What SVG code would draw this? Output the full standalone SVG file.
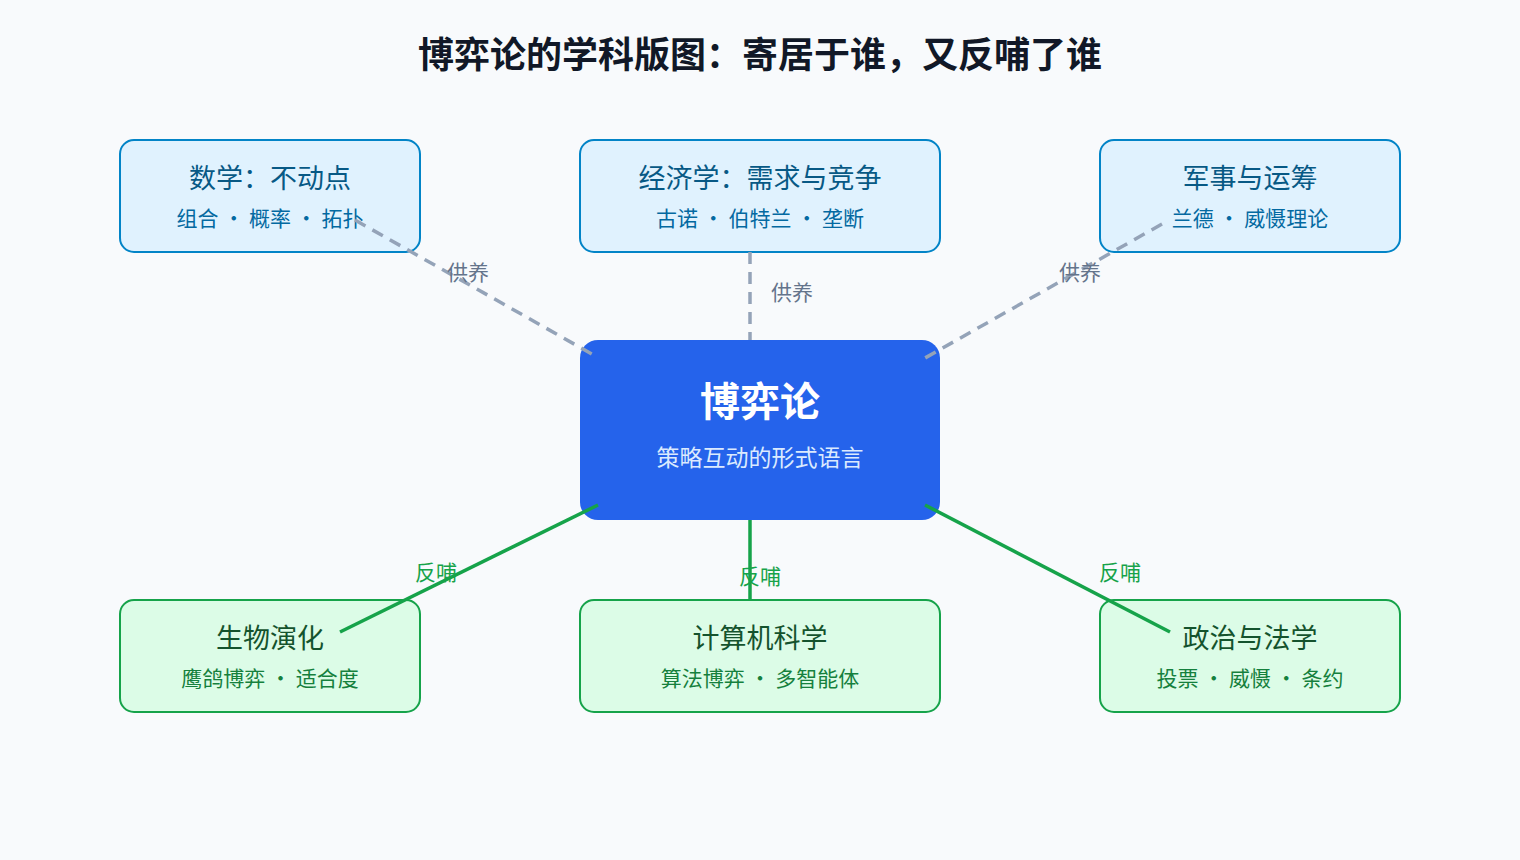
<svg xmlns="http://www.w3.org/2000/svg" width="1520" height="860" viewBox="0 0 1520 860">
<style>
text{font-family:"Noto Sans CJK SC","Noto Sans",sans-serif;text-anchor:middle}
.top rect{fill:#e0f2fe;stroke:#0284c7;stroke-width:2}
.bot rect{fill:#dcfce7;stroke:#16a34a;stroke-width:2}
.top .t{fill:#075985;font-size:27px}
.top .s{fill:#0369a1;font-size:21px}
.bot .t{fill:#14532d;font-size:27px}
.bot .s{fill:#15803d;font-size:21px}
.feed{stroke:#94a3b8;stroke-width:3.5;stroke-dasharray:12 8;fill:none}
.back{stroke:#16a34a;stroke-width:3.5;fill:none}
.lf{fill:#64748b;font-size:21px}
.lb{fill:#16a34a;font-size:21px}
</style>
<rect width="1520" height="860" fill="#f8fafc"/>
<text x="760" y="68" font-size="36" font-weight="bold" fill="#111827">博弈论的学科版图：寄居于谁，又反哺了谁</text>
<g id="math" class="top"><rect x="120" y="140" width="300" height="112" rx="14"/><text class="t" x="270" y="188">数学：不动点</text><text class="s" x="270" y="226">组合 · 概率 · 拓扑</text></g>
<g id="econ" class="top"><rect x="580" y="140" width="360" height="112" rx="14"/><text class="t" x="760" y="188">经济学：需求与竞争</text><text class="s" x="760" y="226">古诺 · 伯特兰 · 垄断</text></g>
<g id="mil" class="top"><rect x="1100" y="140" width="300" height="112" rx="14"/><text class="t" x="1250" y="188">军事与运筹</text><text class="s" x="1250" y="226">兰德 · 威慑理论</text></g>
<g id="bio" class="bot"><rect x="120" y="600" width="300" height="112" rx="14"/><text class="t" x="270" y="648">生物演化</text><text class="s" x="270" y="686">鹰鸽博弈 · 适合度</text></g>
<g id="cs" class="bot"><rect x="580" y="600" width="360" height="112" rx="14"/><text class="t" x="760" y="648">计算机科学</text><text class="s" x="760" y="686">算法博弈 · 多智能体</text></g>
<g id="pol" class="bot"><rect x="1100" y="600" width="300" height="112" rx="14"/><text class="t" x="1250" y="648">政治与法学</text><text class="s" x="1250" y="686">投票 · 威慑 · 条约</text></g>
<g id="center"><rect x="580" y="340" width="360" height="180" rx="18" fill="#2563eb"/><text x="760" y="416" font-size="40" font-weight="bold" fill="#fff">博弈论</text><text x="760" y="466" font-size="23" fill="#dbeafe">策略互动的形式语言</text></g>
<g id="connectors">
<line class="feed" x1="355" y1="220" x2="597" y2="357"/>
<line class="feed" x1="750" y1="252" x2="750" y2="340"/>
<line class="feed" x1="1162" y1="224" x2="925" y2="358"/>
<line class="back" x1="598" y1="505" x2="340" y2="632"/>
<line class="back" x1="750" y1="520" x2="750" y2="600"/>
<line class="back" x1="925" y1="505" x2="1170" y2="632"/>
<text class="lf" x="468" y="280">供养</text>
<text class="lf" x="792" y="300">供养</text>
<text class="lf" x="1080" y="280">供养</text>
<text class="lb" x="436" y="580">反哺</text>
<text class="lb" x="760" y="584">反哺</text>
<text class="lb" x="1120" y="580">反哺</text>
</g>
</svg>
